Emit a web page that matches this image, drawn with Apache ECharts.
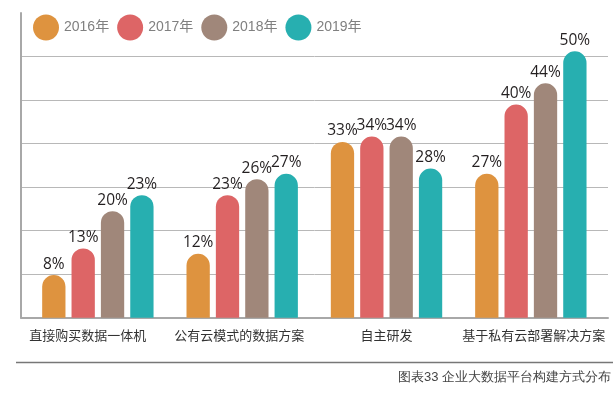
<!DOCTYPE html>
<html><head><meta charset="utf-8">
<script src="https://cdn.jsdelivr.net/npm/echarts@6/dist/echarts.min.js"></script>
<style>html,body{margin:0;padding:0;background:#fff}#c{width:616px;height:396px}</style>
</head><body><div id="c"></div>
<script>
const categories = ['直接购买数据一体机', '公有云模式的数据方案', '自主研发', '基于私有云部署解决方案'];
const years = ['2016年', '2017年', '2018年', '2019年'];
const v2016 = [8, 12, 33, 27];
const v2017 = [13, 23, 34, 40];
const v2018 = [20, 26, 34, 44];
const v2019 = [23, 27, 28, 50];
const caption = '图表33 企业大数据平台构建方式分布';

const colors = ['#DE933F', '#DD6566', '#A0877A', '#27AFB0'];
const labelShift = [-10, -3, 0, 3];
const seriesValues = [v2016, v2017, v2018, v2019];
const cjk = '"Liberation Sans", "Noto Sans CJK SC", sans-serif';

const chart = echarts.init(document.getElementById('c'), null, {renderer: 'canvas'});
chart.setOption({
  animation: false,
  color: colors,
  legend: {
    left: 33, top: 14.5, padding: 0,
    icon: 'circle', itemWidth: 26, itemHeight: 26, itemGap: 8,
    textStyle: {fontSize: 14, color: '#808080', fontFamily: cjk},
    data: years
  },
  grid: [
    {left: 25.7, right: 13, top: 13, bottom: 78.3},
    {left: 21, right: 8, top: 13, bottom: 78.3}
  ],
  xAxis: [
    {
      type: 'category', gridIndex: 0,
      data: categories.map((c, i) => ({
        value: c,
        textStyle: {padding: labelShift[i] < 0 ? [0, -2 * labelShift[i], 0, 0] : [0, 0, 0, 2 * labelShift[i]]}
      })),
      axisLine: {show: false}, axisTick: {show: false},
      axisLabel: {fontSize: 13, color: '#333', margin: 12, fontFamily: cjk, interval: 0}
    },
    {
      type: 'value', gridIndex: 1, min: 0, max: 1,
      axisLine: {show: true, lineStyle: {color: '#a8a8a8', width: 2}},
      axisTick: {show: false}, axisLabel: {show: false}, splitLine: {show: false}
    }
  ],
  yAxis: [
    {
      type: 'value', gridIndex: 0, min: 0, max: 57.2,
      axisLine: {show: false}, axisTick: {show: false}, axisLabel: {show: false}, splitLine: {show: false}
    },
    {
      type: 'value', gridIndex: 1, min: 0, max: 7, interval: 1,
      axisLine: {show: true, lineStyle: {color: '#a8a8a8', width: 2}},
      axisTick: {show: false}, axisLabel: {show: false},
      splitLine: {show: true, showMinLine: false, showMaxLine: false, lineStyle: {color: '#b8b8b8', width: 1}}
    }
  ],
  series: years.map((y, i) => ({
    name: y, type: 'bar', xAxisIndex: 0, yAxisIndex: 0,
    data: seriesValues[i],
    barWidth: 23.3, barGap: '26%',
    clip: false,
    itemStyle: {borderRadius: [12, 12, 0, 0]},
    label: {
      show: true, position: 'top', distance: 3,
      formatter: '{c}%', fontSize: 15.5, color: '#231f20',
      fontFamily: '"Open Sans", sans-serif'
    }
  })),
  graphic: [
    {type: 'line', shape: {x1: 16, y1: 362.5, x2: 613, y2: 362.5}, style: {stroke: '#777', lineWidth: 1.5}},
    {type: 'text', right: 5, top: 371, style: {text: caption, fontSize: 13, fill: '#444', font: '13px ' + cjk}}
  ]
});
</script></body></html>
